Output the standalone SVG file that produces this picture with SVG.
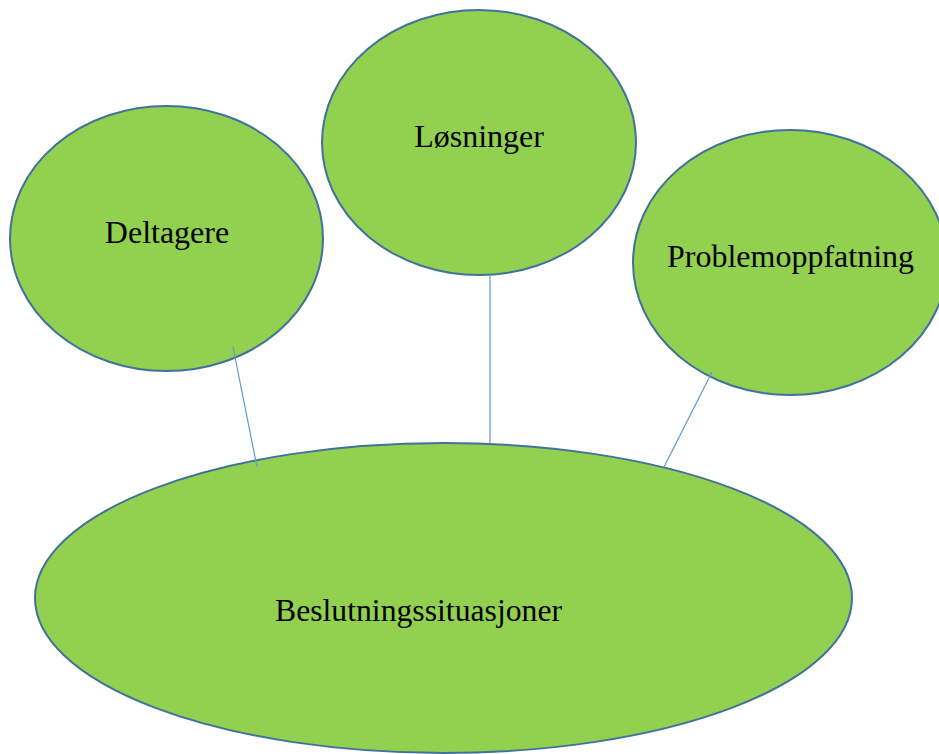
<svg xmlns="http://www.w3.org/2000/svg" width="939" height="754" viewBox="0 0 939 754">
  <style>
    .node { fill: #92D050; stroke: #41719C; stroke-width: 2; }
    .label { font-family: "Liberation Serif", "Times New Roman", serif; font-size: 32px; fill: #000; }
    .link { stroke: #5B9BD5; stroke-width: 1.2; fill: none; }
  </style>
  <rect width="939" height="754" fill="#fff"/>
  <g id="deltagere">
    <ellipse class="node" cx="166.5" cy="238.5" rx="156.5" ry="132.5"/>
    <text class="label" x="167" y="243" text-anchor="middle">Deltagere</text>
  </g>
  <g id="losninger">
    <ellipse class="node" cx="479" cy="142.5" rx="157" ry="132.5"/>
    <text class="label" x="479" y="147" text-anchor="middle">Løsninger</text>
  </g>
  <g id="problemoppfatning">
    <ellipse class="node" cx="790" cy="262.5" rx="157" ry="132.5"/>
    <text class="label" x="790.5" y="267" text-anchor="middle">Problemoppfatning</text>
  </g>
  <g id="beslutningssituasjoner">
    <ellipse class="node" cx="443.5" cy="598" rx="408.5" ry="155"/>
    <text class="label" x="275" y="621" textLength="287" lengthAdjust="spacingAndGlyphs">Beslutningssituasjoner</text>
  </g>
  <g id="connectors">
    <line class="link" x1="233" y1="347" x2="257" y2="467"/>
    <line class="link" x1="490" y1="275" x2="490" y2="443"/>
    <line class="link" x1="712" y1="372" x2="664" y2="467"/>
  </g>
</svg>
